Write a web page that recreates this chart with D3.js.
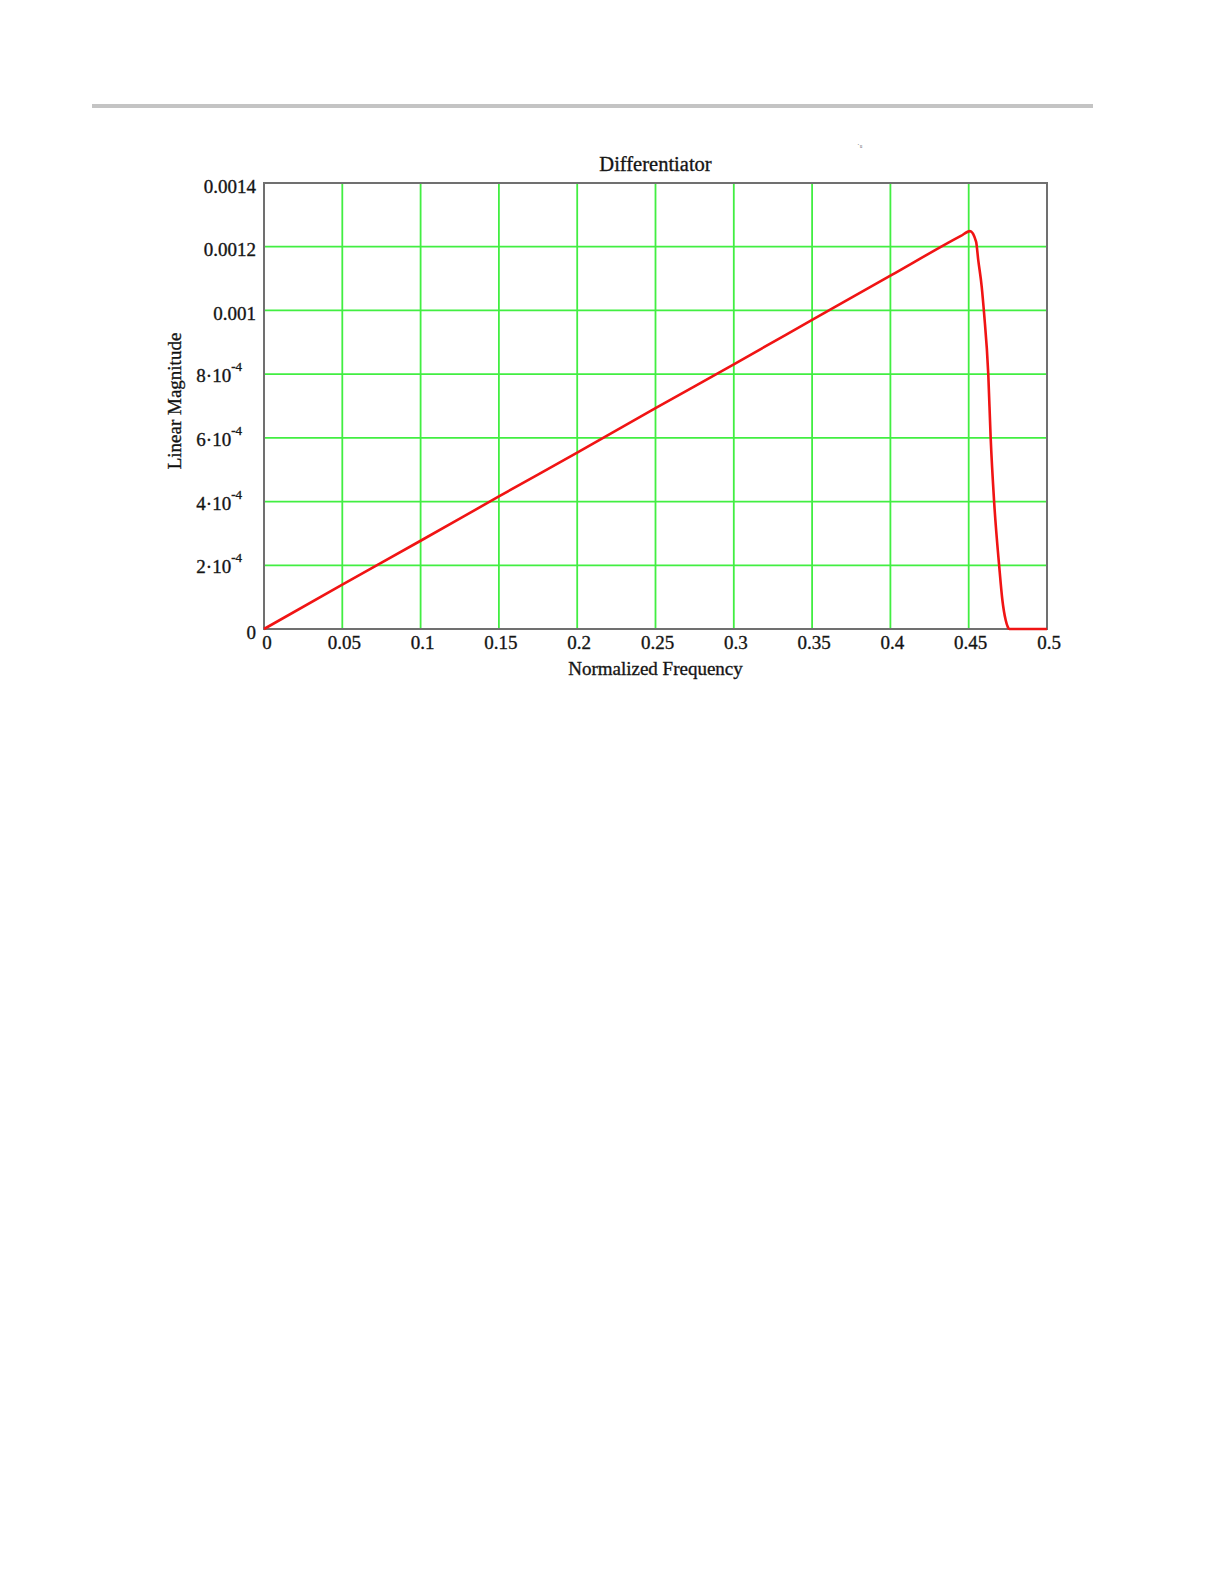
<!DOCTYPE html>
<html>
<head>
<meta charset="utf-8">
<script src="https://cdn.jsdelivr.net/npm/d3@7"></script>
<style>
  html, body { margin: 0; padding: 0; background: #fff; }
  text { font-family: "Liberation Serif", "DejaVu Serif", serif; fill: #111; stroke: #222; stroke-width: 0.35px; }
</style>
</head>
<body>
<svg id="chart" width="1224" height="1584"></svg>
<script>
// values (normalized frequency vs linear magnitude)
const freq = [0, 0.05, 0.1, 0.15, 0.2, 0.25, 0.3, 0.35, 0.4, 0.445, 0.4508,
  0.4547, 0.4561, 0.4583, 0.4598, 0.4625, 0.464, 0.4662, 0.4695, 0.4715,
  0.4736, 0.475, 0.4759, 0.5];
const magnitude = [0, 0.000139, 0.000277, 0.000416, 0.000554, 0.000693, 0.000831,
  0.00097, 0.001109, 0.001234, 0.001249, 0.001216, 0.001158, 0.001075, 0.000992,
  0.0008, 0.000603, 0.000402, 0.000196, 0.000091, 0.000028, 0.000006, 0, 0];

const xTicks = [0, 0.05, 0.1, 0.15, 0.2, 0.25, 0.3, 0.35, 0.4, 0.45, 0.5];
const xTickLabels = ['0', '0.05', '0.1', '0.15', '0.2', '0.25', '0.3', '0.35', '0.4', '0.45', '0.5'];
const yTicks = [0, 0.0002, 0.0004, 0.0006, 0.0008, 0.001, 0.0012, 0.0014];
const yTickBase = ['0', '2·10', '4·10', '6·10', '8·10', '0.001', '0.0012', '0.0014'];
const yTickExp = ['', '-4', '-4', '-4', '-4', '', '', ''];

const title = 'Differentiator';
const xTitle = 'Normalized Frequency';
const yTitle = 'Linear Magnitude';

const svg = d3.select('#chart');
const plot = { left: 264, right: 1047, top: 183, bottom: 629 };

const x = d3.scaleLinear().domain([0, 0.5]).range([plot.left, plot.right]);
const y = d3.scaleLinear().domain([0, 0.0014]).range([plot.bottom, plot.top]);

svg.append('rect').attr('width', 1224).attr('height', 1584).attr('fill', '#fff');

// page rule at top
svg.append('rect')
  .attr('x', 92).attr('y', 104).attr('width', 1001).attr('height', 4)
  .attr('fill', '#c4c4c4');

// grid
const grid = svg.append('g').attr('stroke', '#42ee42').attr('stroke-width', 1.8);
grid.selectAll('line.v')
  .data(xTicks.slice(1, -1))
  .enter().append('line')
  .attr('class', 'v')
  .attr('x1', d => x(d)).attr('x2', d => x(d))
  .attr('y1', plot.top).attr('y2', plot.bottom);
grid.selectAll('line.h')
  .data(yTicks.slice(1, -1))
  .enter().append('line')
  .attr('class', 'h')
  .attr('x1', plot.left).attr('x2', plot.right)
  .attr('y1', d => y(d)).attr('y2', d => y(d));

// frame
svg.append('rect')
  .attr('x', plot.left).attr('y', plot.top)
  .attr('width', plot.right - plot.left).attr('height', plot.bottom - plot.top)
  .attr('fill', 'none').attr('stroke', '#707070').attr('stroke-width', 2);

// response curve
const line = d3.line()
  .x((d, i) => x(freq[i]))
  .y(d => y(d))
  .curve(d3.curveMonotoneX);

svg.append('path')
  .datum(magnitude)
  .attr('d', line)
  .attr('fill', 'none')
  .attr('stroke', '#f01414')
  .attr('stroke-width', 2.6)
  .attr('stroke-linejoin', 'round');

// x tick labels
svg.append('g').selectAll('text')
  .data(xTicks)
  .enter().append('text')
  .attr('x', (d, i) => x(d) + (i === 0 ? 3 : 2))
  .attr('y', plot.bottom + 20)
  .attr('text-anchor', 'middle')
  .attr('font-size', 19)
  .text((d, i) => xTickLabels[i]);

// y tick labels
const yLabels = svg.append('g').selectAll('text')
  .data(yTicks)
  .enter().append('text')
  .attr('x', (d, i) => (yTickExp[i] ? 242 : 256))
  .attr('y', (d, i) => y(d) + (yTickExp[i] ? 8 : 9.5))
  .attr('text-anchor', 'end')
  .attr('font-size', 19);
yLabels.append('tspan').text((d, i) => yTickBase[i]);
yLabels.append('tspan')
  .attr('font-size', 13)
  .attr('dy', -11)
  .text((d, i) => yTickExp[i]);

// titles
svg.append('text')
  .attr('x', (plot.left + plot.right) / 2).attr('y', 171)
  .attr('text-anchor', 'middle').attr('font-size', 20.5)
  .text(title);

svg.append('text')
  .attr('x', (plot.left + plot.right) / 2).attr('y', 675)
  .attr('text-anchor', 'middle').attr('font-size', 19)
  .text(xTitle);

svg.append('text')
  .attr('transform', `translate(181, ${(plot.top + plot.bottom) / 2 - 5}) rotate(-90)`)
  .attr('text-anchor', 'middle').attr('font-size', 19)
  .text(yTitle);

// small stray mark above the frame
svg.append('text')
  .attr('x', 857).attr('y', 150)
  .attr('font-size', 8)
  .style('fill', '#666').style('stroke', 'none')
  .text('˙ᵘ');
</script>
</body>
</html>
